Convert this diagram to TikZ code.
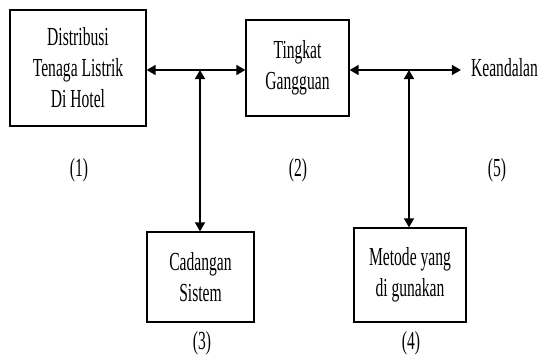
\documentclass[tikz,border=0pt]{standalone}
\usepackage{fontspec}
\setmainfont{Liberation Serif}[FakeStretch=0.6]
\usetikzlibrary{arrows.meta}
\begin{document}
\begin{tikzpicture}[x=1pt,y=-1pt,
  box/.style={draw,line width=1.3pt,align=center,inner sep=0pt,
    font=\fontsize{26}{31}\selectfont},
  lbl/.style={font=\fontsize{26}{31}\selectfont,inner sep=0pt},
  conn/.style={line width=1.5pt,{Triangle[length=9pt,width=10pt]}-{Triangle[length=9pt,width=10pt]}}]
\useasboundingbox (0,0) rectangle (540,354);
\node[box,minimum width=136pt,minimum height=116pt] (b1) at (78,68) {Distribusi\\Tenaga Listrik\\Di Hotel};
\node[box,minimum width=103pt,minimum height=96pt] (b2) at (297.5,68) {Tingkat\\Gangguan};
\node[box,minimum width=107pt,minimum height=90pt] (b3) at (200.5,277) {Cadangan\\Sistem};
\node[box,minimum width=112pt,minimum height=94pt] (b4) at (410,275) {Metode yang\\di gunakan};
\node[lbl,anchor=east] (k) at (538,68) {Keandalan};
\node[lbl] (l1) at (79,170) {(1)};
\node[lbl] (l2) at (298,170) {(2)};
\node[lbl] (l5) at (497,170) {(5)};
\node[lbl] (l3) at (202,343) {(3)};
\node[lbl] (l4) at (411,343) {(4)};
\coordinate (j1) at (200,70);
\coordinate (j2) at (409,70);
\draw[conn] ([yshift=-2pt]b1.east) -- ([yshift=-2pt]b2.west);
\draw[conn] ([yshift=-2pt]b2.east) -- ([xshift=-10pt,yshift=-2pt]k.west);
\draw[conn] (j1) -- (b3.north -| j1);
\draw[conn] (j2) -- (b4.north -| j2);
\end{tikzpicture}
\end{document}
